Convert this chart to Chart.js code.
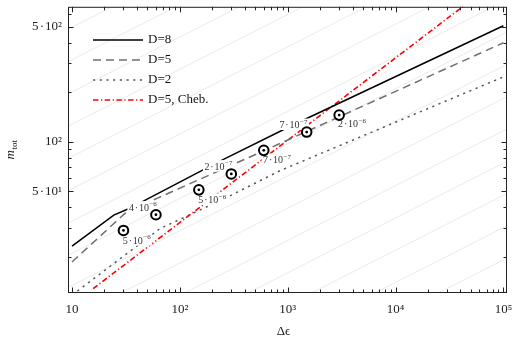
<!DOCTYPE html>
<html>
<head>
<meta charset="utf-8">
<script src="https://cdn.jsdelivr.net/npm/chart.js@4.4.1/dist/chart.umd.min.js"></script>
<style>
  html, body { margin: 0; padding: 0; background: #fff; }
  #wrap { width: 518px; height: 348px; }
</style>
</head>
<body>
<div id="wrap"><canvas id="grafico" width="518" height="348"></canvas></div>
<script>
// --- datos (Δε, m_tot) ---
const d8X = [10, 24.4, 34.3, 48.3, 153, 265, 910, 1500, 100000];
const d8Y = [23.2, 35.8, 39.4, 44.3, 65.8, 79.2, 118.2, 138.4, 506];

const d5X = [10, 33.1, 62.9, 603, 100000];
const d5Y = [18.6, 38.2, 45.6, 88.2, 399];

const d2X = [10, 65.2, 271, 848, 100000];
const d2Y = [11.7, 29.6, 45.8, 66.7, 247.6];

const chebX = [15.7, 45000];
const chebY = [12.8, 685];

// puntos medidos (círculo con punto) y sus etiquetas
const markX = [30, 60, 150, 300, 600, 1500, 3000];
const markY = [28.9, 36.0, 51.0, 63.7, 88.6, 114.5, 145.1];

const labelX = [39.9, 45.4, 200, 228, 796, 1132, 3954];
const labelY = [24.8, 39.4, 43.9, 69.9, 76.7, 125, 126.8];
const labelMant = ['5', '4', '5', '2', '7', '7', '2'];
const labelExp = ['−6', '−6', '−6', '−7', '−7', '−7', '−6'];

// líneas grises de fondo: valor en x = 9 y en x = 110000
const bgLineX = [9, 110000];
const bgLineLeftY = [0.546, 0.858, 1.348, 2.117, 3.326, 5.22, 8.21, 12.9, 20.26, 31.82, 50.0, 78.5, 123.4, 193.8, 304.4, 478.3];
const bgLineRightY = [12.59, 19.77, 31.05, 48.77, 76.6, 120.3, 189.0, 297.1, 466.6, 733, 1152, 1808, 2842, 4464, 7012, 11018];

// ejes
const xMin = 9.18, xMax = 108000;
const yMin = 12.05, yMax = 660;
const xMajor = [10, 100, 1000, 10000, 100000];
const xMajorLabels = ['10', '10²', '10³', '10⁴', '10⁵'];
const yMajor = [50, 100, 500];
const yMajorLabels = ['5\u200a·\u200a10¹', '10²', '5\u200a·\u200a10²'];

const SERIF = "'Liberation Serif', 'Times New Roman', serif";

const pts = (xs, ys) => xs.map((x, i) => ({ x, y: ys[i] }));

function minorTicks(min, max) {
  const out = [];
  for (let e = Math.floor(Math.log10(min)); e <= Math.ceil(Math.log10(max)); e++) {
    for (let m = 1; m <= 9; m++) {
      const v = m * Math.pow(10, e);
      if (v >= min && v <= max) out.push(v);
    }
  }
  return out;
}

const bgSets = bgLineLeftY.map((y0, i) => ({
  data: pts(bgLineX, [y0, bgLineRightY[i]]),
  borderColor: '#e4e4e4',
  borderWidth: 0.8,
  pointRadius: 0,
  order: 10,
}));

const series = [
  { label: 'D=8', data: pts(d8X, d8Y), borderColor: '#000', borderWidth: 1.5, borderDash: [], legend: true },
  { label: 'D=5', data: pts(d5X, d5Y), borderColor: '#707070', borderWidth: 1.5, borderDash: [8, 5], legend: true },
  { label: 'D=2', data: pts(d2X, d2Y), borderColor: '#5a5a5a', borderWidth: 1.5, borderDash: [2.2, 4.5], legend: true },
  { label: 'D=5, Cheb.', data: pts(chebX, chebY), borderColor: '#ff0000', borderWidth: 1.6, borderDash: [5.5, 2.5, 1.2, 2.5], legend: true },
].map((s) => ({ ...s, pointRadius: 0, order: 5, tension: 0 }));

const markSets = [
  { data: pts(markX, markY), showLine: false, pointRadius: 4.8, pointBorderWidth: 2, pointBorderColor: '#000', pointBackgroundColor: '#fff', order: 1 },
  { data: pts(markX, markY), showLine: false, pointRadius: 1.4, pointBorderWidth: 0, pointBackgroundColor: '#000', order: 0 },
];

// etiquetas tipo "5·10^-6" con fondo blanco
function drawPow(ctx, cx, cy, mant, exp, size) {
  const base = mant + '\u200a·\u200a10';
  const small = Math.round(size * 0.72);
  ctx.font = `${size}px ${SERIF}`;
  const wb = ctx.measureText(base).width;
  ctx.font = `${small}px ${SERIF}`;
  const we = ctx.measureText(exp).width;
  const w = wb + we + 0.5;
  const x0 = cx - w / 2;
  ctx.fillStyle = '#fff';
  ctx.fillRect(x0 - 1.5, cy - size * 0.72, w + 3, size * 1.15);
  ctx.fillStyle = '#333';
  ctx.textBaseline = 'middle';
  ctx.textAlign = 'left';
  ctx.font = `${size}px ${SERIF}`;
  ctx.fillText(base, x0, cy);
  ctx.font = `${small}px ${SERIF}`;
  ctx.fillText(exp, x0 + wb + 0.5, cy - size * 0.38);
}

// las etiquetas van encima de las curvas pero debajo de los marcadores
const etiquetas = {
  id: 'etiquetas',
  afterDatasetDraw(chart, args) {
    if (args.index !== bgSets.length) return;
    const { ctx, scales: { x, y } } = chart;
    ctx.save();
    labelX.forEach((v, i) => {
      drawPow(ctx, x.getPixelForValue(v), y.getPixelForValue(labelY[i]), labelMant[i], labelExp[i], 10);
    });
    ctx.restore();
  },
};

const marco = {
  id: 'marco',
  afterDraw(chart) {
    const { ctx, chartArea: a, scales: { x, y } } = chart;
    ctx.save();
    ctx.strokeStyle = '#222';
    ctx.lineWidth = 1;
    ctx.strokeRect(a.left + 0.5, a.top + 0.5, a.right - a.left - 1, a.bottom - a.top - 1);

    ctx.beginPath();
    minorTicks(xMin, xMax).forEach((v) => {
      const len = xMajor.includes(v) ? 5.5 : 3.5;
      const px = Math.round(x.getPixelForValue(v)) + 0.5;
      ctx.moveTo(px, a.bottom); ctx.lineTo(px, a.bottom - len);
      ctx.moveTo(px, a.top); ctx.lineTo(px, a.top + len);
    });
    minorTicks(yMin, yMax).forEach((v) => {
      const len = yMajor.includes(v) ? 5.5 : 3.5;
      const py = Math.round(y.getPixelForValue(v)) + 0.5;
      ctx.moveTo(a.left, py); ctx.lineTo(a.left + len, py);
      ctx.moveTo(a.right, py); ctx.lineTo(a.right - len, py);
    });
    ctx.stroke();

    // títulos de ejes
    ctx.fillStyle = '#222';
    ctx.textBaseline = 'middle';
    ctx.textAlign = 'center';
    ctx.font = `13px ${SERIF}`;
    ctx.fillText('Δϵ', (a.left + a.right) / 2 - 4, 332);

    ctx.save();
    ctx.translate(11, 150);
    ctx.rotate(-Math.PI / 2);
    ctx.textAlign = 'left';
    ctx.font = `italic 13px ${SERIF}`;
    const wm = ctx.measureText('m').width;
    ctx.font = `9px ${SERIF}`;
    const wt = ctx.measureText('tot').width;
    const x0 = -(wm + wt) / 2;
    ctx.font = `italic 13px ${SERIF}`;
    ctx.fillText('m', x0, 0);
    ctx.font = `9px ${SERIF}`;
    ctx.fillText('tot', x0 + wm + 0.5, 3.5);
    ctx.restore();

    // leyenda
    chart.data.datasets.filter((d) => d.legend).forEach((d, i) => {
      const ly = 40 + i * 20;
      ctx.strokeStyle = d.borderColor;
      ctx.lineWidth = d.borderWidth;
      ctx.setLineDash(d.borderDash);
      ctx.beginPath();
      ctx.moveTo(93, ly); ctx.lineTo(143, ly);
      ctx.stroke();
      ctx.setLineDash([]);
      ctx.fillStyle = '#111';
      ctx.textAlign = 'left';
      ctx.font = `13px ${SERIF}`;
      ctx.fillText(d.label, 148, ly);
    });
    ctx.restore();
  },
};

new Chart(document.getElementById('grafico'), {
  type: 'line',
  data: { datasets: [...bgSets, ...series, ...markSets] },
  options: {
    responsive: false,
    animation: false,
    devicePixelRatio: 1,
    layout: { padding: { top: 6, right: 11, left: 0, bottom: 0 } },
    plugins: { legend: { display: false }, tooltip: { enabled: false } },
    scales: {
      x: {
        type: 'logarithmic',
        min: xMin,
        max: xMax,
        grid: { display: false, drawTicks: false },
        border: { display: false },
        afterBuildTicks: (s) => { s.ticks = xMajor.map((v) => ({ value: v })); },
        afterFit: (s) => { s.height = 55; s.paddingLeft = 0; s.paddingRight = 0; },
        ticks: {
          autoSkip: false,
          maxRotation: 0,
          padding: 9,
          color: '#222',
          font: { family: SERIF, size: 13 },
          callback: (v) => xMajorLabels[xMajor.indexOf(v)] ?? '',
        },
      },
      y: {
        type: 'logarithmic',
        min: yMin,
        max: yMax,
        grid: { display: false, drawTicks: false },
        border: { display: false },
        afterBuildTicks: (s) => { s.ticks = yMajor.map((v) => ({ value: v })); },
        afterFit: (s) => { s.width = 68; s.paddingTop = 0; s.paddingBottom = 0; },
        ticks: {
          autoSkip: false,
          padding: 6,
          color: '#222',
          font: { family: SERIF, size: 13 },
          callback: (v) => yMajorLabels[yMajor.indexOf(v)] ?? '',
        },
      },
    },
  },
  plugins: [etiquetas, marco],
});
</script>
</body>
</html>
